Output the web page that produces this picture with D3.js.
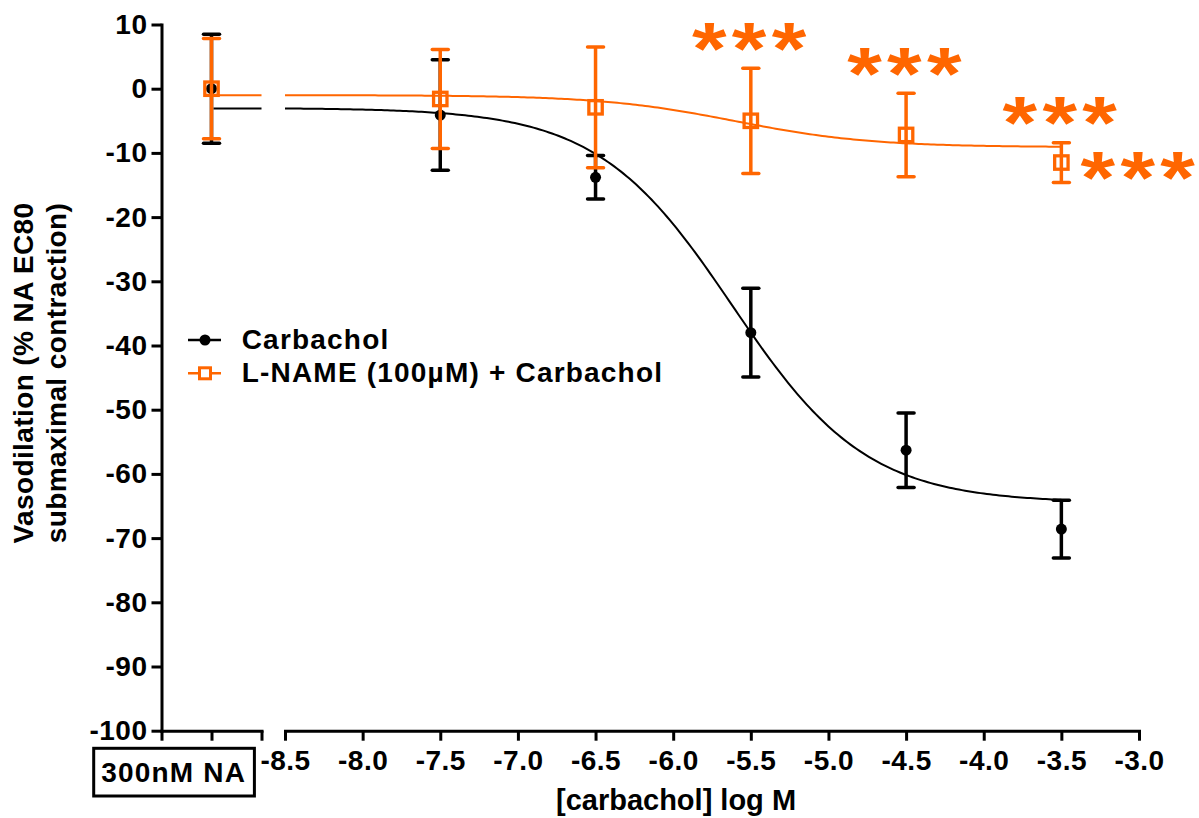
<!DOCTYPE html>
<html>
<head>
<meta charset="utf-8">
<script src="https://cdn.jsdelivr.net/npm/d3@7"></script>
<style>
  body { margin: 0; background: #fff; }
  svg text { font-family: "Liberation Sans", Arial, sans-serif; font-weight: bold; fill: #000; }
  .axis text { font-size: 28px; letter-spacing: 0.5px; }
  .axis path, .axis line { stroke: #000; stroke-width: 3; }
</style>
</head>
<body>
<div id="chart"></div>
<script>
// concentrations (log M) and the NA-only reference point
var concs = [-7.5, -6.5, -5.5, -4.5, -3.5];
var xTicks = [-8.5, -8.0, -7.5, -7.0, -6.5, -6.0, -5.5, -5.0, -4.5, -4.0, -3.5, -3.0];
var yTicks = [10, 0, -10, -20, -30, -40, -50, -60, -70, -80, -90, -100];

// Carbachol alone
var carbNA = { mean: 0, sem: 8.5 };
var carbMean = [-4.1, -13.8, -38.0, -56.3, -68.6];
var carbSem = [8.6, 3.4, 6.9, 5.8, 4.5];
var carbFit = { bottom: -3.0, top: -64.5, logEC50: -5.62, hill: 1.0 };

// L-NAME (100uM) + Carbachol
var lnameNA = { mean: 0, sem: 7.8 };
var lnameMean = [-1.6, -2.9, -5.0, -7.2, -11.5];
var lnameSem = [7.7, 9.4, 8.2, 6.5, 3.1];
var lnameFit = { bottom: -1.0, top: -9.1, logEC50: -5.6, hill: 1.0 };

// significance marks
var starConcs = [-5.5, -4.5, -3.5, -3.5];
var starPlace = ["above", "above", "above", "right"];

var orange = "#ff6600";

var series = [
  { name: "Carbachol", color: "#000", symbol: "circle", na: carbNA, mean: carbMean, sem: carbSem, fit: carbFit },
  { name: "L-NAME (100\u00b5M) + Carbachol", color: orange, symbol: "square", na: lnameNA, mean: lnameMean, sem: lnameSem, fit: lnameFit }
];

var width = 1199, height = 818;

var svg = d3.select("#chart").append("svg")
    .attr("width", width)
    .attr("height", height);

var y = d3.scaleLinear().domain([-100, 10]).range([730.7, 24.5]);
var x = d3.scaleLinear().domain([-8.5, -3.0]).range([285, 1139]);
var xNA = d3.scaleLinear().domain([0, 2]).range([161.5, 261.5]); // left stub, NA at 1

function logistic(p, c) {
  return p.bottom + (p.top - p.bottom) / (1 + Math.pow(10, (p.logEC50 - c) * p.hill));
}

// axes
svg.append("g")
    .attr("class", "axis")
    .attr("transform", "translate(" + xNA(0) + ",0)")
    .call(d3.axisLeft(y).tickValues(yTicks).tickSize(10).tickSizeOuter(0).tickPadding(4)
      .tickFormat(function (d) { return String(d); }));

svg.append("g")
    .attr("class", "axis")
    .attr("transform", "translate(0," + y(-100) + ")")
    .call(d3.axisBottom(xNA).tickValues([0, 1, 2]).tickSize(10).tickSizeOuter(0).tickFormat(""));

svg.append("g")
    .attr("class", "axis")
    .attr("transform", "translate(0," + y(-100) + ")")
    .call(d3.axisBottom(x).tickValues(xTicks).tickSize(10).tickSizeOuter(0).tickPadding(9)
      .tickFormat(function (d) { return d.toFixed(1); }));

svg.selectAll(".axis path").attr("stroke-linecap", "square");

// NA label box
var box = svg.append("g").attr("transform", "translate(173.7,772)");
box.append("rect")
    .attr("x", -80).attr("y", -23.7).attr("width", 160.7).attr("height", 47.7)
    .attr("fill", "none").attr("stroke", "#000").attr("stroke-width", 3);
box.append("text")
    .attr("text-anchor", "middle").attr("y", 10)
    .style("font-size", "28px").style("letter-spacing", "1.2px")
    .text("300nM NA");

// axis titles
svg.append("text")
    .attr("transform", "translate(676,810)")
    .attr("text-anchor", "middle")
    .style("font-size", "29px")
    .text("[carbachol] log M");

svg.append("text")
    .attr("transform", "translate(33,373) rotate(-90)")
    .attr("text-anchor", "middle")
    .style("font-size", "28px").style("letter-spacing", "0.4px")
    .text("Vasodilation (% NA EC80");
svg.append("text")
    .attr("transform", "translate(66,373) rotate(-90)")
    .attr("text-anchor", "middle")
    .style("font-size", "28px").style("letter-spacing", "0.4px")
    .text("submaximal contraction)");

// curves, error bars, points
var line = d3.line()
    .x(function (d) { return d[0]; })
    .y(function (d) { return y(d[1]); });

var curveX = d3.range(-8.5, -3.5 + 1e-9, 0.02);

series.forEach(function (s) {
  var g = svg.append("g");
  var plateau = logistic(s.fit, -8.5);

  g.append("path")
      .datum([[xNA(1) + 2, plateau], [xNA(2), plateau]])
      .attr("fill", "none").attr("stroke", s.color).attr("stroke-width", 2)
      .attr("d", line);

  g.append("path")
      .datum(curveX.map(function (c) { return [x(c), logistic(s.fit, c)]; }))
      .attr("fill", "none").attr("stroke", s.color).attr("stroke-width", 2)
      .attr("d", line);

  var pts = [{ px: xNA(1), mean: s.na.mean, sem: s.na.sem }].concat(
    concs.map(function (c, i) { return { px: x(c), mean: s.mean[i], sem: s.sem[i] }; }));

  var eb = g.selectAll(".eb").data(pts).enter().append("g").attr("class", "eb");
  eb.append("line")
      .attr("x1", function (d) { return d.px; }).attr("x2", function (d) { return d.px; })
      .attr("y1", function (d) { return y(d.mean + d.sem); })
      .attr("y2", function (d) { return y(d.mean - d.sem); })
      .attr("stroke", s.color).attr("stroke-width", 3.5);
  [1, -1].forEach(function (sign) {
    eb.append("line")
        .attr("x1", function (d) { return d.px - 8; }).attr("x2", function (d) { return d.px + 8; })
        .attr("y1", function (d) { return y(d.mean + sign * d.sem); })
        .attr("y2", function (d) { return y(d.mean + sign * d.sem); })
        .attr("stroke", s.color).attr("stroke-width", 3.5).attr("stroke-linecap", "round");
  });

  if (s.symbol === "circle") {
    g.selectAll(".pt").data(pts).enter().append("circle")
        .attr("cx", function (d) { return d.px; })
        .attr("cy", function (d) { return y(d.mean); })
        .attr("r", 5.5).attr("fill", s.color);
  } else {
    g.selectAll(".pt").data(pts).enter().append("rect")
        .attr("x", function (d) { return d.px - 6.7; })
        .attr("y", function (d) { return y(d.mean) - 6.7; })
        .attr("width", 13.4).attr("height", 13.4)
        .attr("fill", "none").attr("stroke", s.color).attr("stroke-width", 3.3);
  }
});

// asterisks (glyph drawn a little wider than tall, as in the original)
var starSize = 74;
starConcs.forEach(function (c, i) {
  var k = concs.indexOf(c);
  var cx, bottom;
  if (starPlace[i] === "above") {
    cx = x(c) + 1;
    bottom = y(lnameMean[k] + lnameSem[k]) - 16;
  } else {
    cx = x(c) + 79;
    bottom = y(lnameMean[k]) + 4.5 + 15;
  }
  svg.append("text")
      .attr("transform", "translate(" + cx + "," + (bottom + 0.29 * starSize) + ") scale(1.2,1)")
      .attr("text-anchor", "middle")
      .style("font-size", starSize + "px").style("letter-spacing", "4.5px")
      .style("fill", orange)
      .text("***");
});

// legend
var leg = svg.append("g").attr("transform", "translate(188,340)");
series.forEach(function (s, i) {
  var r = leg.append("g").attr("transform", "translate(0," + (i * 33.3) + ")");
  r.append("line").attr("x1", 0).attr("x2", 33).attr("y1", 0).attr("y2", 0)
      .attr("stroke", s.color).attr("stroke-width", 2.5);
  if (s.symbol === "circle") {
    r.append("circle").attr("cx", 17).attr("cy", 0).attr("r", 5.5).attr("fill", s.color);
  } else {
    r.append("rect").attr("x", 11.5).attr("y", -5.5).attr("width", 11).attr("height", 11)
        .attr("fill", "#fff").attr("stroke", s.color).attr("stroke-width", 3);
  }
  r.append("text")
      .attr("x", 53.7).attr("y", 8.5)
      .style("font-size", "28px").style("letter-spacing", "1.2px")
      .text(s.name);
});
</script>
</body>
</html>
